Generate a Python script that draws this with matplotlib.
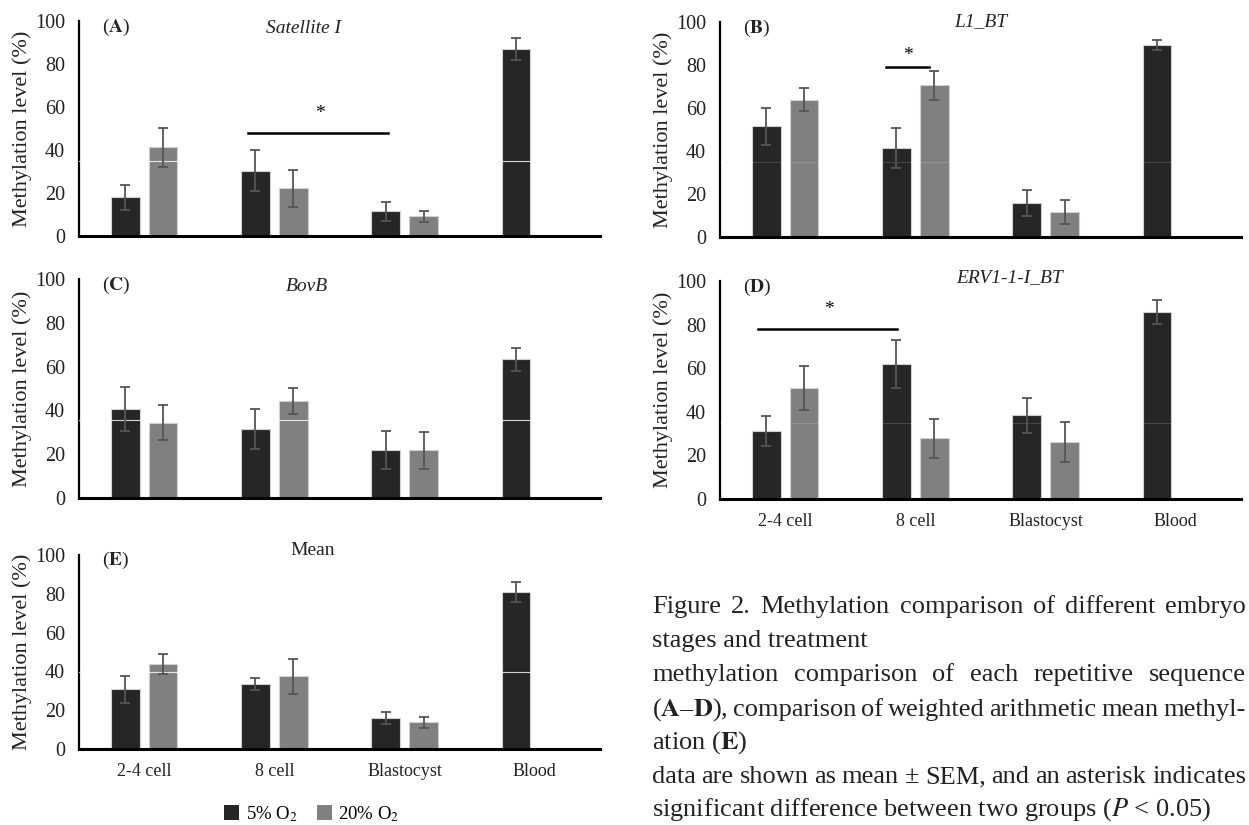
import matplotlib
matplotlib.use('Agg')
import matplotlib.pyplot as plt
from matplotlib.patches import Patch
import numpy as np

plt.rcParams['font.family'] = ['Liberation Serif', 'DejaVu Serif']
plt.rcParams['mathtext.fontset'] = 'stix'

stages = ['2-4 cell', '8 cell', 'Blastocyst', 'Blood']

# values (mean, SEM); 20% O2 has no blood sample
sat_5 = [18.0, 30.4, 11.5, 87.0]
sat_5_err = [5.7, 9.5, 4.5, 5.0]
sat_20 = [41.3, 22.2, 9.2]
sat_20_err = [9.0, 8.7, 2.6]

l1_5 = [51.5, 41.6, 15.8, 89.3]
l1_5_err = [8.5, 9.3, 6.0, 2.4]
l1_20 = [63.9, 70.5, 11.5]
l1_20_err = [5.5, 6.8, 5.5]

bovb_5 = [40.5, 31.6, 22.1, 63.4]
bovb_5_err = [10.0, 9.0, 8.7, 5.2]
bovb_20 = [34.4, 44.3, 21.8]
bovb_20_err = [8.0, 5.9, 8.4]

erv_5 = [31.3, 62.1, 38.4, 85.8]
erv_5_err = [7.0, 11.0, 7.9, 5.3]
erv_20 = [50.9, 27.8, 26.1]
erv_20_err = [10.0, 8.8, 9.0]

mean_5 = [30.8, 33.7, 16.0, 80.9]
mean_5_err = [7.0, 3.1, 2.9, 5.3]
mean_20 = [43.8, 37.5, 13.7]
mean_20_err = [5.0, 9.0, 3.0]

# significance bars: (x start, x end, y, asterisk x, asterisk y)
sig_A = (0.795, 1.87, 47.7, 1.35, 57.0)
sig_B = (0.772, 1.105, 79.0, 0.94, 84.5)
sig_D = (-0.205, 0.858, 78.0, 0.334, 87.0)

caption = [
    ('Figure 2. Methylation comparison of different embryo', True),
    ('stages and treatment', False),
    ('methylation comparison of each repetitive sequence', True),
    (r'($\mathbf{A}$–$\mathbf{D}$), comparison of weighted arithmetic mean methyl-', True),
    (r'ation ($\mathbf{E}$)', False),
    ('data are shown as mean ± SEM, and an asterisk indicates', True),
    (r'significant difference between two groups ($\mathit{P}$ < 0.05)', False),
]

W, H = 1249, 825
dark = '#262626'
gray = '#808080'
errc = '#555555'
txtc = '#222222'

fig = plt.figure(figsize=(W / 100, H / 100), dpi=100)


def make_ax(left, right, top, bottom):
    return fig.add_axes([left / W, 1 - bottom / H, (right - left) / W, (bottom - top) / H])


def panel(ax, v5, e5, v20, e20, label, title, tx, ty, italic, line_y, show_x):
    x = np.arange(len(stages))
    ax.bar(x - 0.145, v5, 0.22, color=dark, edgecolor='#d0d0d0', linewidth=0.8, zorder=2)
    ax.bar(x[:3] + 0.145, v20, 0.22, color=gray, edgecolor='#d0d0d0', linewidth=0.8, zorder=2)
    ax.errorbar(x - 0.145, v5, yerr=e5, fmt='none', ecolor=errc, elinewidth=1.3,
                capsize=3.5, capthick=1.3, zorder=4)
    ax.errorbar(x[:3] + 0.145, v20, yerr=e20, fmt='none', ecolor=errc, elinewidth=1.3,
                capsize=3.5, capthick=1.3, zorder=4)
    # faint scan line crossing the bars in the original
    ax.axhline(line_y[0], color='white', lw=0.8, alpha=line_y[1], zorder=3)
    ax.set_xlim(-0.5, 3.5)
    ax.set_ylim(0, 100)
    ax.set_yticks([0, 20, 40, 60, 80, 100])
    ax.tick_params(axis='y', length=0, labelsize=14.5, pad=10, labelcolor=txtc)
    ax.set_xticks(x)
    if show_x:
        ax.set_xticklabels(stages)
        ax.tick_params(axis='x', length=0, labelsize=13, pad=10, labelcolor=txtc)
    else:
        ax.tick_params(axis='x', length=0, labelbottom=False)
    for s in ['top', 'right']:
        ax.spines[s].set_visible(False)
    ax.spines['left'].set_linewidth(1.6)
    ax.spines['bottom'].set_linewidth(2.2)
    ax.set_ylabel('Methylation level (%)', fontsize=16, color=txtc)
    ax.yaxis.set_label_coords(-0.09, 0.5)
    ax.text(-0.32, 97, label, fontsize=14, va='center', ha='left', color=txtc)
    ax.text(tx, ty, title, fontsize=14, ha='center', va='center',
            style='italic' if italic else 'normal', color=txtc)
    ax.patch.set_alpha(0)


def sig(ax, s):
    ax.plot([s[0], s[1]], [s[2], s[2]], color='black', lw=1.8, clip_on=False, zorder=5)
    ax.text(s[3], s[4], '*', fontsize=14, ha='center', va='center')


axA = make_ax(79, 600, 21, 236)
panel(axA, sat_5, sat_5_err, sat_20, sat_20_err, r'($\mathbf{A}$)', 'Satellite I',
      1.22, 96.5, True, (35, 0.8), False)
sig(axA, sig_A)

axB = make_ax(720, 1241, 22, 237)
panel(axB, l1_5, l1_5_err, l1_20, l1_20_err, r'($\mathbf{B}$)', 'L1_BT',
      1.5, 100, True, (35, 0.15), False)
sig(axB, sig_B)

axC = make_ax(79, 600, 279, 498)
panel(axC, bovb_5, bovb_5_err, bovb_20, bovb_20_err, r'($\mathbf{C}$)', 'BovB',
      1.25, 96.5, True, (35.4, 0.8), False)

axD = make_ax(720, 1241, 281, 499)
panel(axD, erv_5, erv_5_err, erv_20, erv_20_err, r'($\mathbf{D}$)', 'ERV1-1-I_BT',
      1.72, 101.5, True, (35, 0.15), True)
sig(axD, sig_D)

axE = make_ax(79, 600, 555, 749)
panel(axE, mean_5, mean_5_err, mean_20, mean_20_err, r'($\mathbf{E}$)', 'Mean',
      1.29, 102.5, False, (39.5, 0.8), True)

handles = [Patch(facecolor=dark, edgecolor='none'), Patch(facecolor=gray, edgecolor='none')]
fig.legend(handles, ['5% O$_2$', '20% O$_2$'], loc='center', bbox_to_anchor=(312 / W, 1 - 814 / H),
           ncol=2, frameon=False, fontsize=13.5, handlelength=0.8, handleheight=0.8,
           handletextpad=0.35, columnspacing=1.0)

# caption, justified lines fill the column up to the right edge
x0, x1 = 652, 1246
baselines = [613, 647, 681, 716, 749, 783, 816]
renderer = fig.canvas.get_renderer()
for (line, just), yb in zip(caption, baselines):
    y = 1 - yb / H
    if not just:
        fig.text(x0 / W, y, line, fontsize=19, va='baseline', ha='left', color=txtc)
        continue
    words = line.split(' ')
    size = 19
    while True:
        arts = [fig.text(0, y, w, fontsize=size, va='baseline', ha='left', color=txtc) for w in words]
        widths = [a.get_window_extent(renderer).width for a in arts]
        gap = (x1 - x0 - sum(widths)) / (len(words) - 1)
        if gap >= 4 or size < 12:
            break
        for a in arts:
            a.remove()
        size -= 0.5
    xp = x0
    for a, w in zip(arts, widths):
        a.set_x(xp / W)
        xp += w + gap

fig.savefig('out.png', dpi=100)
